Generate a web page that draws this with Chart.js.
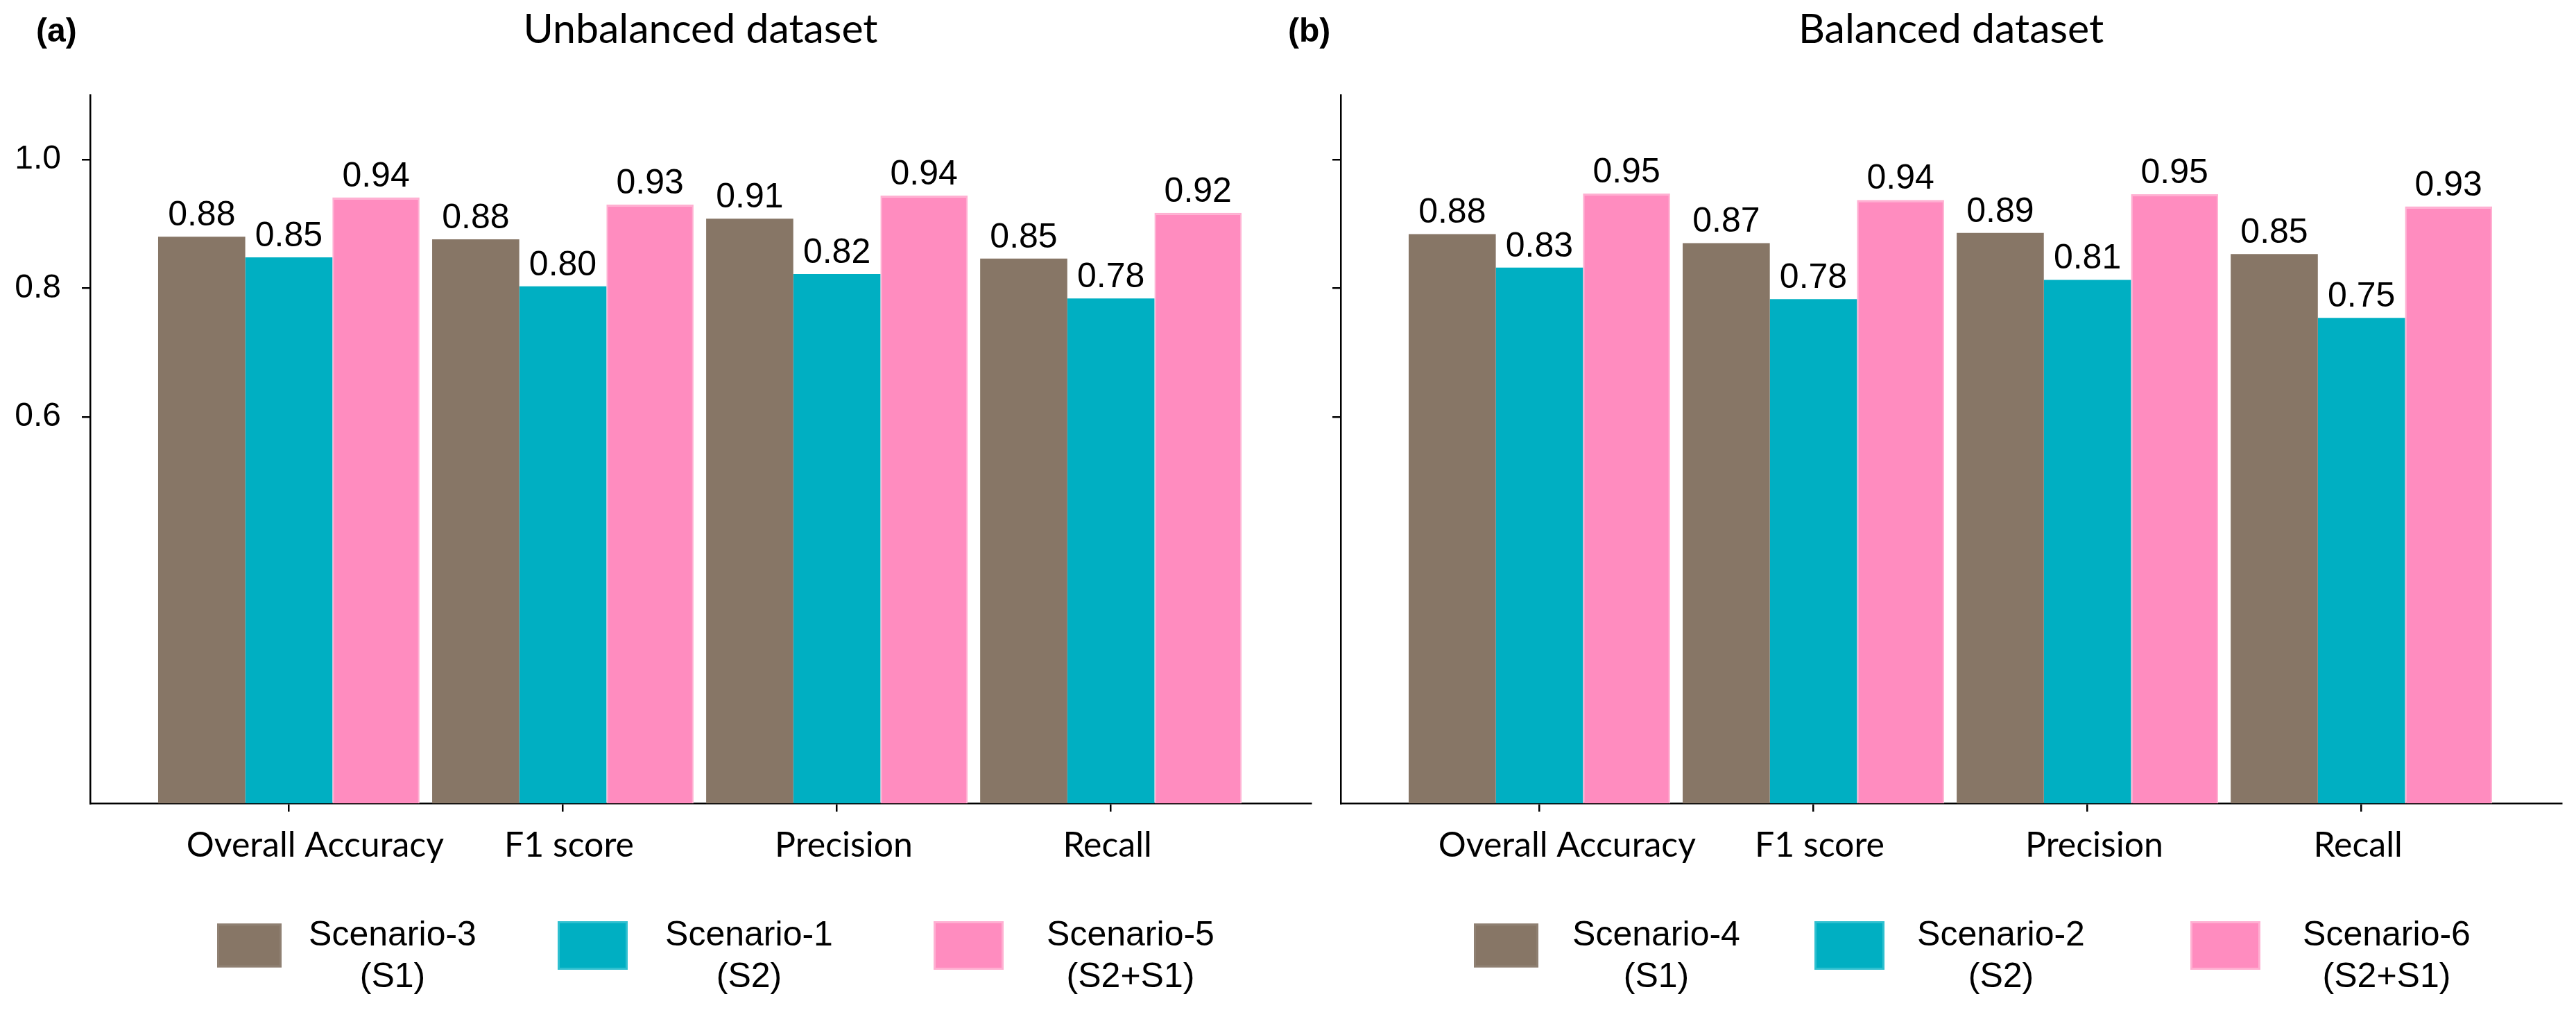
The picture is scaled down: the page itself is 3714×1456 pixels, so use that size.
<!DOCTYPE html>
<html><head><meta charset="utf-8">
<script src="https://cdn.jsdelivr.net/npm/chart.js@4.4.1/dist/chart.umd.min.js"></script>
<style>
html,body{margin:0;padding:0;background:#fff;}
#wrap{position:relative;width:3714px;height:1456px;overflow:hidden;}
canvas{position:absolute;top:0;}
#ca{left:0;}
#cb{left:1840px;}
</style></head><body>
<div id="wrap"><canvas id="ca" width="1910" height="1456"></canvas><canvas id="cb" width="1874" height="1456"></canvas></div>
<script>
const categories = ['Overall Accuracy', 'F1 score', 'Precision', 'Recall'];
const yTickValues = [0.6, 0.8, 1.0];
const xTickValues = [0, 1, 2, 3];
const unbalancedLabels = [['Scenario-3', '(S1)'], ['Scenario-1', '(S2)'], ['Scenario-5', '(S2+S1)']];
const balancedLabels = [['Scenario-4', '(S1)'], ['Scenario-2', '(S2)'], ['Scenario-6', '(S2+S1)']];
// Unbalanced dataset
const scenario3 = [0.880, 0.876, 0.908, 0.846];
const scenario1 = [0.848, 0.803, 0.822, 0.784];
const scenario5 = [0.941, 0.930, 0.944, 0.917];
// Balanced dataset
const scenario4 = [0.884, 0.870, 0.886, 0.853];
const scenario2 = [0.832, 0.783, 0.813, 0.754];
const scenario6 = [0.947, 0.937, 0.946, 0.927];

const BROWN = '#877666', CYAN = '#00AFC2', PINK = '#FF8CBF';
const colors = [BROWN, CYAN, PINK];
const borders = ['#8f8072', '#2fc0d0', '#ffb0d2'];

Chart.defaults.font.family = '"Liberation Sans", Arial, sans-serif';
Chart.defaults.color = '#000';

const valueLabels = {
  id: 'valueLabels',
  afterDatasetsDraw(chart) {
    const ctx = chart.ctx;
    ctx.save();
    ctx.font = '50px "Liberation Sans", Arial, sans-serif';
    ctx.fillStyle = '#000';
    ctx.textAlign = 'center';
    ctx.textBaseline = 'alphabetic';
    chart.data.datasets.forEach((ds, di) => {
      chart.getDatasetMeta(di).data.forEach((bar, i) => {
        ctx.fillText(ds.data[i].y.toFixed(2), bar.x, bar.y - 16);
      });
    });
    ctx.restore();
  }
};

const decorations = {
  id: 'decorations',
  afterDraw(chart, args, o) {
    const ctx = chart.ctx;
    const a = chart.chartArea;
    const xs = chart.scales.x;
    ctx.save();
    // panel tag
    ctx.fillStyle = '#000';
    ctx.font = 'bold 48px "Liberation Sans", Arial, sans-serif';
    ctx.textAlign = 'left';
    ctx.textBaseline = 'alphabetic';
    ctx.fillText(o.tag, o.tagX, 60);
    // title
    ctx.font = '59px Lato, sans-serif';
    ctx.textAlign = 'center';
    ctx.fillText(o.title, (a.left + a.right) / 2, 62);
    // category labels
    ctx.font = '50px Lato, sans-serif';
    categories.forEach((c, i) => {
      ctx.fillText(c, xs.getPixelForValue(xTickValues[i]) + o.catDX[i], 1235);
    });
    // legend
    chart.data.datasets.forEach((ds, i) => {
      const bx = a.left + o.boxX[i], bw = o.boxW[i], bh = o.boxH[i];
      const by = 1363 - bh / 2;
      ctx.fillStyle = ds.backgroundColor;
      ctx.fillRect(bx, by, bw, bh);
      ctx.strokeStyle = ds.borderColor;
      ctx.lineWidth = 3;
      ctx.strokeRect(bx + 1.5, by + 1.5, bw - 3, bh - 3);
      ctx.fillStyle = '#000';
      ctx.font = '50px "Liberation Sans", Arial, sans-serif';
      ctx.textAlign = 'center';
      ctx.textBaseline = 'alphabetic';
      const tx = a.left + o.textX[i];
      ctx.fillText(o.labels[i][0], tx, 1363);
      ctx.fillText(o.labels[i][1], tx, 1423);
    });
    ctx.restore();
  }
};

function makeChart(id, series, labels, cfg) {
  const datasets = series.map((vals, s) => ({
    label: labels[s].join(' '),
    data: vals.map((v, i) => ({ x: xTickValues[i], y: v })),
    backgroundColor: colors[s],
    borderColor: borders[s],
    borderWidth: s === 2 ? { top: 3, left: 2, right: 2, bottom: 0 } : 0,
    borderSkipped: 'bottom',
    categoryPercentage: 0.954,
    barPercentage: 1.0
  }));
  return new Chart(document.getElementById(id), {
    type: 'bar',
    data: { datasets },
    plugins: [valueLabels, decorations],
    options: {
      responsive: false,
      animation: false,
      devicePixelRatio: 1,
      layout: { padding: { top: 137, right: cfg.padRight, bottom: 0, left: 0 } },
      plugins: {
        legend: { display: false },
        tooltip: { enabled: false },
        title: { display: false },
        decorations: cfg.deco
      },
      scales: {
        x: {
          type: 'linear',
          min: -0.725,
          max: 3.73,
          offset: false,
          afterBuildTicks: (s) => { s.ticks = xTickValues.map(v => ({ value: v })); },
          afterFit: (s) => { s.height = 298; },
          ticks: {
            autoSkip: false,
            maxRotation: 0,
            padding: 18,
            font: { family: 'Lato, sans-serif', size: 50 },
            color: '#000',
            callback: () => ''
          },
          grid: { display: true, drawOnChartArea: false, drawTicks: true, tickLength: 12, color: '#000', lineWidth: 2.5, offset: false },
          border: { display: true, color: '#000', width: 2.5 }
        },
        y: {
          type: 'linear',
          min: 0,
          max: 1.1,
          afterBuildTicks: (s) => { s.ticks = yTickValues.map(v => ({ value: v })); },
          afterFit: (s) => { s.width = cfg.yWidth; },
          ticks: {
            padding: 30,
            font: { size: 48 },
            color: '#000',
            callback: (v) => cfg.showY ? Number(v).toFixed(1) : ''
          },
          grid: { display: true, drawOnChartArea: false, drawTicks: true, tickLength: 12, color: '#000', lineWidth: 2.5 },
          border: { display: true, color: '#000', width: 2.5 }
        }
      }
    }
  });
}

makeChart('ca', [scenario3, scenario1, scenario5], unbalancedLabels, {
  padRight: 20, yWidth: 130, showY: true,
  deco: { tag: '(a)', tagX: 52, title: 'Unbalanced dataset', catDX: [38, 9, 10, -5],
    labels: unbalancedLabels, boxX: [183, 674, 1216], boxW: [93, 101, 101], boxH: [63, 70, 70], textX: [436, 950, 1500] }
});
makeChart('cb', [scenario4, scenario2, scenario6], balancedLabels, {
  padRight: 21, yWidth: 93, showY: false,
  deco: { tag: '(b)', tagX: 17, title: 'Balanced dataset', catDX: [40, 9, 10, -5],
    labels: balancedLabels, boxX: [192, 683, 1225], boxW: [93, 101, 101], boxH: [63, 70, 70], textX: [455, 952, 1508] }
});
</script>
</body></html>
